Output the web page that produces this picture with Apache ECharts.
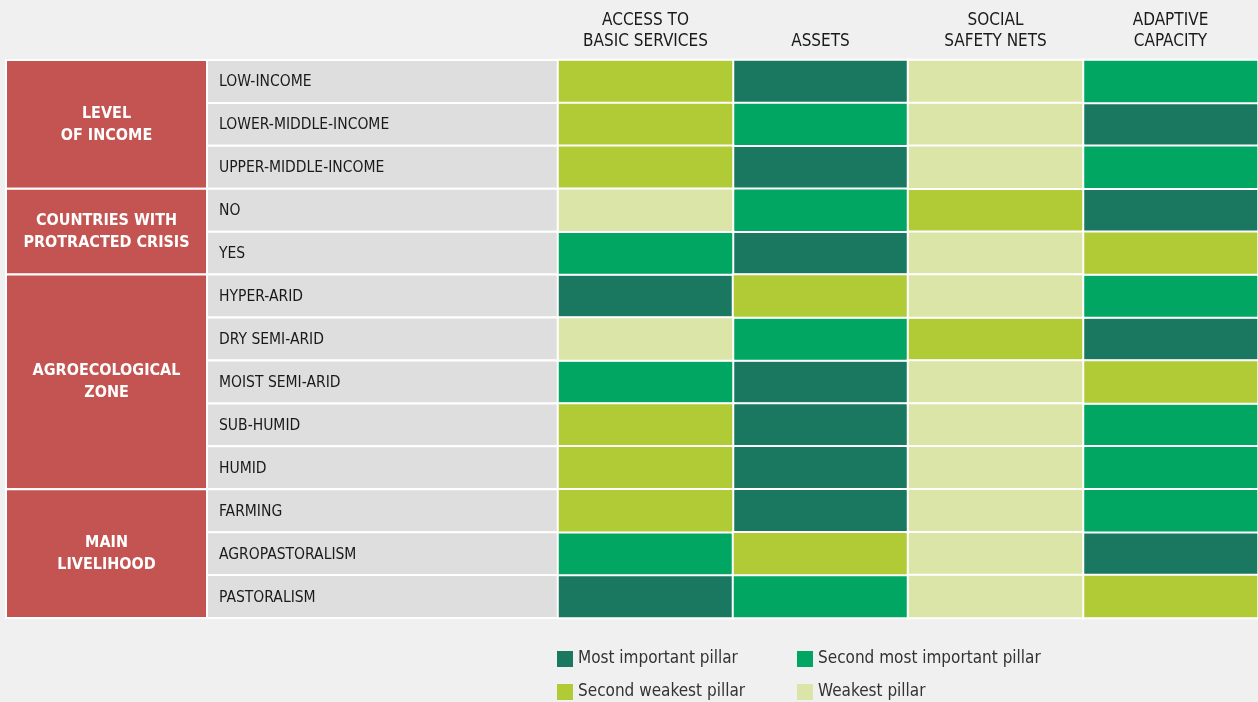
<!DOCTYPE html>
<html>
<head>
<meta charset="utf-8">
<script src="https://cdn.jsdelivr.net/npm/echarts@6/dist/echarts.min.js"></script>
<style>
  html, body { margin: 0; padding: 0; background: #f0f0f0; }
  #main { width: 1258px; height: 702px; }
</style>
</head>
<body>
<div id="main"></div>
<script>
const FONT = '"DejaVu Sans Condensed", "Roboto", sans-serif'

const columns = ['ACCESS TO\nBASIC SERVICES', 'ASSETS', 'SOCIAL\nSAFETY NETS', 'ADAPTIVE\nCAPACITY']
const rowLabels = [
  'LOW-INCOME', 'LOWER-MIDDLE-INCOME', 'UPPER-MIDDLE-INCOME',
  'NO', 'YES',
  'HYPER-ARID', 'DRY SEMI-ARID', 'MOIST SEMI-ARID', 'SUB-HUMID', 'HUMID',
  'FARMING', 'AGROPASTORALISM', 'PASTORALISM'
]
// [group name, first row, last row]
const groups = [
  ['LEVEL\nOF INCOME', 0, 2],
  ['COUNTRIES WITH\nPROTRACTED CRISIS', 3, 4],
  ['AGROECOLOGICAL\nZONE', 5, 9],
  ['MAIN\nLIVELIHOOD', 10, 12]
]
const rankNames = ['Most important pillar', 'Second most important pillar', 'Second weakest pillar', 'Weakest pillar']
const rankColors = ['#19785f', '#00a661', '#b1cb37', '#dce5a8']
// rank per row, one per column (1 = most important ... 4 = weakest)
const ranks = [
  [3, 1, 4, 2],
  [3, 2, 4, 1],
  [3, 1, 4, 2],
  [4, 2, 3, 1],
  [2, 1, 4, 3],
  [1, 3, 4, 2],
  [4, 2, 3, 1],
  [2, 1, 4, 3],
  [3, 1, 4, 2],
  [3, 1, 4, 2],
  [3, 1, 4, 2],
  [2, 3, 4, 1],
  [1, 2, 4, 3]
]

const chart = echarts.init(document.getElementById('main'))

const TOP = 60
const HEIGHT = 558
const rowIdx = rowLabels.map((_, i) => i)

function hiddenY(gridIndex) {
  return {
    type: 'category', gridIndex, inverse: true, data: rowIdx,
    axisLine: { show: false }, axisTick: { show: false }, axisLabel: { show: false }, splitLine: { show: false }
  }
}
function hiddenX(gridIndex) {
  return {
    type: 'category', gridIndex, data: ['x'],
    axisLine: { show: false }, axisTick: { show: false }, axisLabel: { show: false }, splitLine: { show: false }
  }
}

const heatSeries = rankNames.map((name, r) => {
  const data = []
  ranks.forEach((row, y) => {
    row.forEach((v, x) => { if (v === r + 1) data.push([x, y, v]) })
  })
  return {
    name,
    type: 'heatmap',
    xAxisIndex: 2,
    yAxisIndex: 2,
    data,
    itemStyle: { color: rankColors[r], borderColor: '#ffffff', borderWidth: 2 },
    emphasis: { disabled: true }
  }
})

const legendBase = {
  top: 648, orient: 'vertical', padding: 0, height: 80,
  itemWidth: 16, itemHeight: 16, itemGap: 11, icon: 'rect',
  itemStyle: { borderWidth: 0 },
  textStyle: { color: '#333', fontSize: 17, lineHeight: 22, fontFamily: FONT }
}

chart.setOption({
  backgroundColor: '#f0f0f0',
  animation: false,
  textStyle: { fontFamily: FONT },
  grid: [
    { left: 6, width: 201, top: TOP, height: HEIGHT },
    { left: 207, width: 351, top: TOP, height: HEIGHT },
    { left: 558, width: 702, top: TOP, height: HEIGHT }
  ],
  xAxis: [
    hiddenX(0),
    hiddenX(1),
    {
      type: 'category', gridIndex: 2, position: 'top', data: columns,
      axisLine: { show: false }, axisTick: { show: false }, splitLine: { show: false },
      axisLabel: { color: '#1a1a1a', fontSize: 17, lineHeight: 21, margin: 8, fontFamily: FONT, interval: 0 }
    }
  ],
  yAxis: [hiddenY(0), hiddenY(1), hiddenY(2)],
  legend: [
    Object.assign({ left: 557, data: [rankNames[0], rankNames[2]] }, legendBase),
    Object.assign({ left: 797, data: [rankNames[1], rankNames[3]] }, legendBase)
  ],
  series: [
    {
      type: 'custom',
      xAxisIndex: 0,
      yAxisIndex: 0,
      silent: true,
      data: groups.map(g => [0, g[1], g[2]]),
      encode: { x: 0, y: [1, 2] },
      renderItem(params, api) {
        const a = api.coord([0, api.value(1)])
        const b = api.coord([0, api.value(2)])
        const size = api.size([1, 1])
        const x = a[0] - size[0] / 2
        const y = a[1] - size[1] / 2
        const h = b[1] + size[1] / 2 - y
        return {
          type: 'group',
          children: [
            { type: 'rect', shape: { x, y, width: size[0], height: h }, style: { fill: '#c35451', stroke: '#ffffff', lineWidth: 2 } },
            {
              type: 'text',
              style: {
                x: x + size[0] / 2, y: y + h / 2,
                text: groups[params.dataIndex][0],
                fill: '#ffffff', font: 'bold 16px ' + FONT, lineHeight: 22,
                align: 'center', verticalAlign: 'middle'
              }
            }
          ]
        }
      }
    },
    {
      type: 'custom',
      xAxisIndex: 1,
      yAxisIndex: 1,
      silent: true,
      data: rowIdx.map(i => [0, i]),
      encode: { x: 0, y: 1 },
      renderItem(params, api) {
        const p = api.coord([0, api.value(1)])
        const size = api.size([1, 1])
        const x = p[0] - size[0] / 2
        const y = p[1] - size[1] / 2
        return {
          type: 'group',
          children: [
            { type: 'rect', shape: { x, y, width: size[0], height: size[1] }, style: { fill: '#dedede', stroke: '#ffffff', lineWidth: 2 } },
            {
              type: 'text',
              style: {
                x: x + 12, y: p[1] + 1,
                text: rowLabels[params.dataIndex],
                fill: '#1a1a1a', font: '15.5px ' + FONT,
                align: 'left', verticalAlign: 'middle'
              }
            }
          ]
        }
      }
    },
    ...heatSeries
  ]
})
</script>
</body>
</html>
